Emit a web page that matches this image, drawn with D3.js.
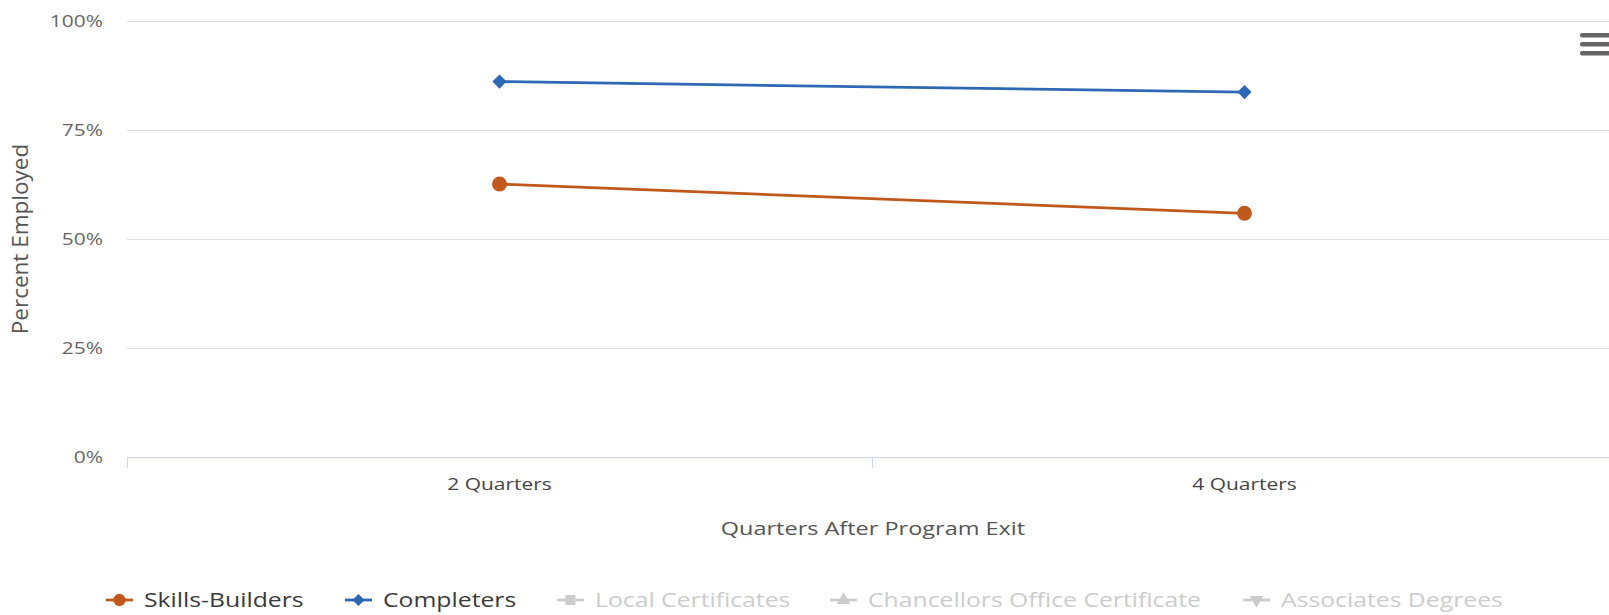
<!DOCTYPE html>
<html>
<head>
<meta charset="utf-8">
<script src="https://cdn.jsdelivr.net/npm/d3@7"></script>
<style>
  body { margin: 0; background: #fff; overflow: hidden; }
  text { font-family: "Open Sans", sans-serif; }
  .grid line { stroke: #dcdcdc; stroke-width: 1; }
  .grid .domain { display: none; }
  .y-axis text { fill: #666; font-size: 16.5px; }
  .y-axis .domain, .y-axis line { display: none; }
  .x-axis text { fill: #444; font-size: 16.5px; }
</style>
</head>
<body>
<div id="chart"></div>
<script>

var categories = ["2 Quarters", "4 Quarters"];
var skillsBuilders = [62.6, 55.9];
var completers = [86.1, 83.7];
var yTicks = [0, 25, 50, 75, 100];
var legendNames = ["Skills-Builders", "Completers", "Local Certificates", "Chancellors Office Certificate", "Associates Degrees"];

var width = 1609;
var height = 615;
var margin = {top: 21, right: -8, bottom: 158, left: 127};

// the text in the original is wider than Open Sans, stretch it sideways
var sx = 1.27;
function stretch(sel) {
  sel.attr("transform", function() {
    var tx = +d3.select(this).attr("x") || 0;
    return "translate(" + tx + ",0) scale(" + sx + ",1) translate(" + (-tx) + ",0)";
  });
}

var svg = d3.select("#chart")
  .append("svg")
    .attr("width", width)
    .attr("height", height);

var chart = svg.append("g").attr("transform", "translate(" + margin.left + "," + margin.top + ")");

var w = width - margin.left - margin.right;
var h = height - margin.top - margin.bottom;

var x = d3.scaleBand()
    .domain(categories)
    .range([0, w]);

var y = d3.scaleLinear()
    .domain([0, 100])
    .range([h, 0]);

// gridlines
chart.append("g")
    .attr("class", "grid")
    .call(d3.axisLeft(y)
      .tickValues(yTicks.slice(1))
      .tickSize(-w)
      .tickFormat(""));

// y tick labels
chart.append("g")
    .attr("class", "y-axis")
    .attr("transform", "translate(-21,0)")
    .call(d3.axisLeft(y)
      .tickValues(yTicks)
      .tickSize(0)
      .tickFormat(function(d) { return d + "%"; }))
    .selectAll("text").call(stretch);

// x axis line and category edge ticks
chart.append("line")
    .attr("x1", 0).attr("x2", w)
    .attr("y1", h + 0.5).attr("y2", h + 0.5)
    .attr("stroke", "#ccd6eb");

var edges = categories.map(function(c) { return x(c); });
chart.selectAll(".edge")
    .data(edges)
  .enter().append("line")
    .attr("class", "edge")
    .attr("x1", function(d) { return Math.round(d) + 0.5; })
    .attr("x2", function(d) { return Math.round(d) + 0.5; })
    .attr("y1", h)
    .attr("y2", h + 11)
    .attr("stroke", "#ccd6eb");

chart.append("g")
    .attr("class", "x-axis")
    .attr("transform", "translate(0," + h + ")")
    .call(d3.axisBottom(x).tickSize(0).tickPadding(21))
    .call(function(g) { g.select(".domain").remove(); })
    .selectAll("text").call(stretch);

// axis titles
chart.append("text")
    .attr("x", w / 2 + 1)
    .attr("y", h + 78)
    .attr("text-anchor", "middle")
    .style("fill", "#555")
    .style("font-size", "18.5px")
    .text("Quarters After Program Exit")
    .call(stretch);

svg.append("text")
    .attr("transform", "translate(28," + (margin.top + h / 2) + ") rotate(-90)")
    .attr("text-anchor", "middle")
    .style("fill", "#555")
    .style("font-size", "22.5px")
    .text("Percent Employed");

// series
var series = [
  {name: legendNames[0], values: skillsBuilders, color: "#c0581b", symbol: d3.symbolCircle, size: 175, rot: 0},
  {name: legendNames[1], values: completers, color: "#2e68b4", symbol: d3.symbolSquare, size: 100, rot: 45}
];

var line = d3.line()
    .x(function(d, i) { return x(categories[i]) + x.bandwidth() / 2; })
    .y(function(d) { return y(d); });

series.forEach(function(s) {
  chart.append("path")
      .attr("d", line(s.values))
      .attr("fill", "none")
      .attr("stroke", s.color)
      .attr("stroke-width", 2.8);
  chart.selectAll(null)
      .data(s.values)
    .enter().append("path")
      .attr("transform", function(d, i) {
        return "translate(" + (x(categories[i]) + x.bandwidth() / 2) + "," + y(d) + ") rotate(" + s.rot + ")";
      })
      .attr("d", d3.symbol().type(s.symbol).size(s.size))
      .attr("fill", s.color);
});

// legend
var legendItems = [
  {x: 106, color: "#c0581b", text: "#3a3a3a", symbol: d3.symbolCircle, size: 120, rot: 0},
  {x: 345, color: "#2e68b4", text: "#3a3a3a", symbol: d3.symbolSquare, size: 75, rot: 45},
  {x: 557, color: "#cccccc", text: "#cccccc", symbol: d3.symbolSquare, size: 100, rot: 0},
  {x: 830, color: "#cccccc", text: "#cccccc", symbol: d3.symbolTriangle, size: 80, rot: 0},
  {x: 1243, color: "#cccccc", text: "#cccccc", symbol: d3.symbolTriangle, size: 80, rot: 180}
];

var legend = svg.append("g").attr("transform", "translate(0,600)");

legendItems.forEach(function(it, i) {
  var g = legend.append("g").attr("transform", "translate(" + it.x + ",0)");
  g.append("line")
      .attr("x1", 0).attr("x2", 27)
      .attr("y1", 0).attr("y2", 0)
      .attr("stroke", it.color)
      .attr("stroke-width", 2.8);
  g.append("path")
      .attr("transform", "translate(13.5,0) rotate(" + it.rot + ")")
      .attr("d", d3.symbol().type(it.symbol).size(it.size))
      .attr("fill", it.color);
  g.append("text")
      .attr("x", 38)
      .attr("dy", "0.35em")
      .style("fill", it.text)
      .style("font-size", "19.5px")
      .text(legendNames[i])
      .call(stretch);
});

// menu icon
svg.append("g")
    .attr("transform", "translate(1580,0)")
    .selectAll("rect")
    .data([33, 42, 51])
  .enter().append("rect")
    .attr("x", 0)
    .attr("y", function(d) { return d; })
    .attr("width", 34)
    .attr("height", 4.5)
    .attr("rx", 2)
    .attr("fill", "#666");

</script>
</body>
</html>
